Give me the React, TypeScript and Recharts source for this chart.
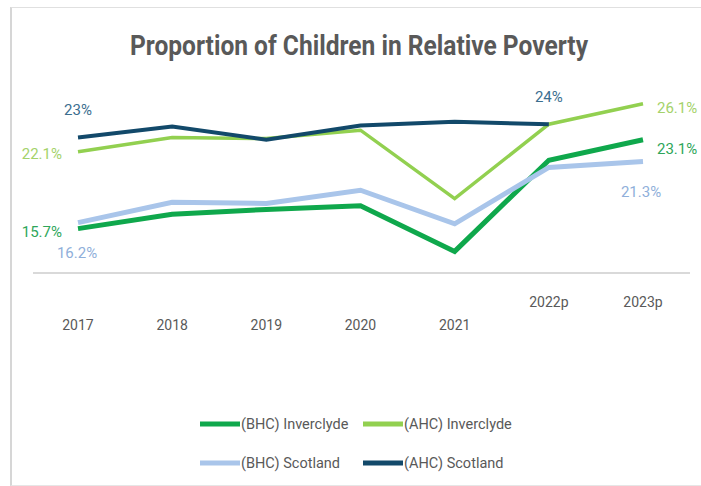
import React from 'react';
import { LineChart, Line, XAxis, YAxis, LabelList } from 'recharts';

const years = ['2017', '2018', '2019', '2020', '2021', '2022p', '2023p'];
const bhcInverclyde = [15.7, 16.9, 17.3, 17.6, 13.8, 21.4, 23.1];
const ahcInverclyde = [22.1, 23.3, 23.2, 23.9, 18.2, 24.4, 26.1];
const bhcScotland = [16.2, 17.9, 17.8, 18.9, 16.1, 20.8, 21.3];
const ahcScotland = [23.3, 24.2, 23.1, 24.3, 24.6, 24.4, null];

const data = years.map((year, i) => ({
  year,
  bhcInverclyde: bhcInverclyde[i],
  ahcInverclyde: ahcInverclyde[i],
  bhcScotland: bhcScotland[i],
  ahcScotland: ahcScotland[i],
}));

const FONT = "Roboto, 'Liberation Sans', sans-serif";
const GREY = '#595959';

type Spot = { dx: number; dy: number; anchor: 'start' | 'middle' | 'end' };

const series = [
  {
    key: 'bhcInverclyde', name: '(BHC) Inverclyde', color: '#0FA84C', width: 5,
    labelColor: '#2EA65A', decimals: 1,
    spots: { 0: { dx: -16, dy: 3, anchor: 'end' }, 6: { dx: 14, dy: 9, anchor: 'start' } } as Record<number, Spot>,
  },
  {
    key: 'bhcScotland', name: '(BHC) Scotland', color: '#A9C5EA', width: 5,
    labelColor: '#8FAFDA', decimals: 1,
    spots: { 0: { dx: -1, dy: 30, anchor: 'middle' }, 6: { dx: -2, dy: 31, anchor: 'middle' } } as Record<number, Spot>,
  },
  {
    key: 'ahcInverclyde', name: '(AHC) Inverclyde', color: '#92D050', width: 3.5,
    labelColor: '#A4D26A', decimals: 1,
    spots: { 0: { dx: -16, dy: 2, anchor: 'end' }, 6: { dx: 14, dy: 4, anchor: 'start' } } as Record<number, Spot>,
  },
  {
    key: 'ahcScotland', name: '(AHC) Scotland', color: '#12496A', width: 4,
    labelColor: '#3B6E8F', decimals: 0,
    spots: { 0: { dx: 0, dy: -27, anchor: 'middle' }, 5: { dx: 0, dy: -27, anchor: 'middle' } } as Record<number, Spot>,
  },
];

const makeLabel = (spots: Record<number, Spot>, color: string, decimals: number) => (props: any) => {
  const { x, y, index, value } = props;
  const s = spots[index];
  if (!s || value == null) return null;
  return (
    <text
      x={x + s.dx}
      y={y + s.dy}
      textAnchor={s.anchor}
      dominantBaseline="central"
      fill={color}
      fontSize={15}
      fontFamily={FONT}
    >
      {Number(value).toFixed(decimals)}%
    </text>
  );
};

const YearTick = (props: any) => {
  const { x, y, payload } = props;
  const projected = String(payload.value).endsWith('p');
  return (
    <text
      x={x}
      y={y + (projected ? 21 : 44)}
      textAnchor="middle"
      dominantBaseline="central"
      fill={GREY}
      fontSize={14}
      fontFamily={FONT}
    >
      {payload.value}
    </text>
  );
};

const legendRows = [
  [series[0], series[2]],
  [series[1], series[3]],
];

export default function App() {
  return (
    <div style={{ position: 'absolute', left: 0, top: 0, width: 701, height: 486, background: '#fff', overflow: 'hidden' }}>
      <div
        style={{
          position: 'absolute', left: 10, top: 7, width: 700, height: 477,
          borderLeft: '2px solid #d6d6d6', borderTop: '1px solid #e0e0e0', borderBottom: '1px solid #e6e6e6',
        }}
      />
      <div style={{ position: 'absolute', left: 0, top: 0 }}>
        <LineChart width={701} height={486} data={data} margin={{ top: 81, right: 11, left: 33, bottom: 153 }}>
          <XAxis
            dataKey="year"
            padding={{ left: 45, right: 47 }}
            axisLine={{ stroke: '#d9d9d9', strokeWidth: 2 }}
            tickLine={false}
            interval={0}
            height={60}
            tick={<YearTick />}
          />
          <YAxis hide domain={[12, 28]} />
          {series.map((s) => (
            <Line
              key={s.key}
              dataKey={s.key}
              name={s.name}
              stroke={s.color}
              strokeWidth={s.width}
              dot={false}
              activeDot={false}
              type="linear"
              isAnimationActive={false}
            >
              <LabelList dataKey={s.key} content={makeLabel(s.spots, s.labelColor, s.decimals)} />
            </Line>
          ))}
        </LineChart>
      </div>
      <svg width={701} height={486} style={{ position: 'absolute', left: 0, top: 0, pointerEvents: 'none' }}>
        <text
          x={359}
          y={46}
          textAnchor="middle"
          dominantBaseline="central"
          fill={GREY}
          fontSize={27}
          fontWeight="bold"
          fontFamily="'Liberation Sans Narrow', Roboto, sans-serif"
          textLength={458}
          lengthAdjust="spacingAndGlyphs"
        >
          Proportion of Children in Relative Poverty
        </text>
        {legendRows.map((row, r) =>
          row.map((s, c) => {
            const x0 = c === 0 ? 200 : 363;
            const y0 = r === 0 ? 424 : 463;
            return (
              <g key={s.key}>
                <line x1={x0} x2={x0 + 40} y1={y0} y2={y0} stroke={s.color} strokeWidth={5} />
                <text x={x0 + 41} y={y0} dominantBaseline="central" fill={GREY} fontSize={14.5} fontFamily={FONT}>
                  {s.name}
                </text>
              </g>
            );
          })
        )}
      </svg>
    </div>
  );
}
